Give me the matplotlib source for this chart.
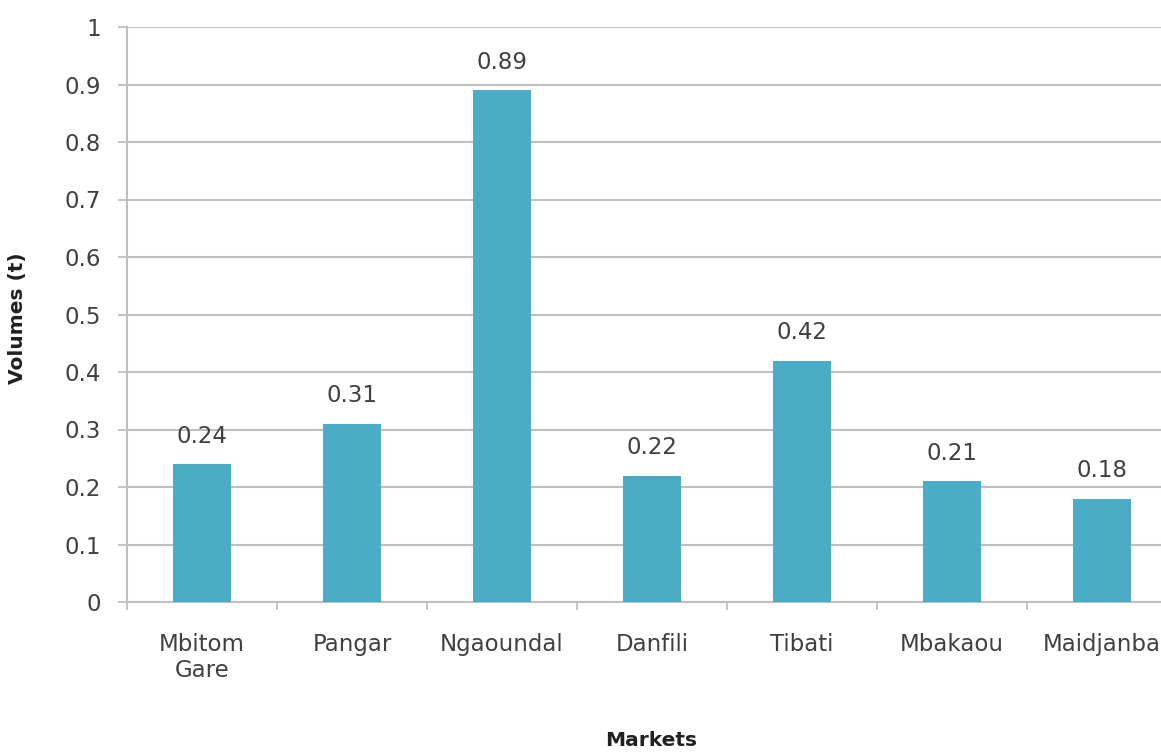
import numpy as np
import matplotlib
matplotlib.use('Agg')
import matplotlib.pyplot as plt

# market volumes
markets = ['Mbitom\nGare', 'Pangar', 'Ngaoundal', 'Danfili', 'Tibati', 'Mbakaou', 'Maidjanba']
volumes = [0.24, 0.31, 0.89, 0.22, 0.42, 0.21, 0.18]
yticks = [0, 0.1, 0.2, 0.3, 0.4, 0.5, 0.6, 0.7, 0.8, 0.9, 1]
ytick_labels = ['0', '0.1', '0.2', '0.3', '0.4', '0.5', '0.6', '0.7', '0.8', '0.9', '1']

plt.rcParams['font.family'] = ['DejaVu Sans']
grey = '#bfbfbf'
text_col = '#404040'

fig = plt.figure(figsize=(11.61, 7.52), dpi=100)
# plot area runs past the right edge of the figure
ax = fig.add_axes([127/1161, 1-602/752, 1050/1161, 575/752])

x = np.arange(len(markets))
bars = ax.bar(x, volumes, width=0.39, color='#4BACC6', zorder=3)

for xi, v in zip(x, volumes):
    ax.annotate('%.2f' % v, (xi, v), xytext=(0, 20), textcoords='offset points',
                ha='center', va='center', fontsize=16.5, color=text_col)

ax.set_xlim(-0.5, len(markets) - 0.5)
ax.set_ylim(0, 1)
ax.set_yticks(yticks)
ax.set_yticklabels(ytick_labels, fontsize=16.5, color=text_col)
ax.set_xticks(x)
ax.set_xticklabels(markets, fontsize=16.5, color=text_col, linespacing=1.2)
ax.set_xticks(np.arange(-0.5, len(markets)), minor=True)
ax.tick_params(axis='x', which='major', length=0, pad=22)
ax.tick_params(axis='x', which='minor', length=6, color=grey, width=1.3)
ax.tick_params(axis='y', length=6.5, color=grey, width=1.3, pad=12)

ax.grid(axis='y', color=grey, linewidth=1.5, zorder=0)
for s in ['top', 'right']:
    ax.spines[s].set_visible(False)
for s in ['left', 'bottom']:
    ax.spines[s].set_color(grey)
    ax.spines[s].set_linewidth(1.5)

fig.text(18/1161, 1-318/752, 'Volumes (t)', fontsize=14.5, fontweight='bold',
         rotation=90, ha='center', va='center', color='#202020')
fig.text(651/1161, 1-740/752, 'Markets', fontsize=14.5, fontweight='bold',
         ha='center', va='center', color='#202020')

fig.savefig('out.png', dpi=100)
